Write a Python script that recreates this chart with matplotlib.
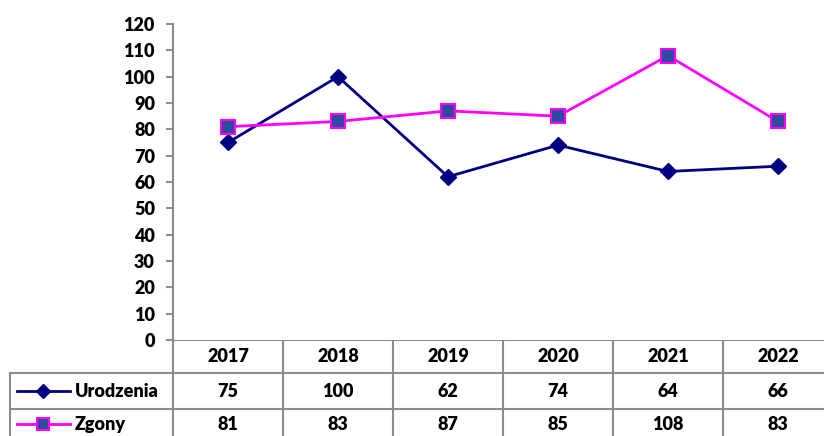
import matplotlib.pyplot as plt
import matplotlib as mpl

mpl.rcParams['font.family'] = ['Lato', 'DejaVu Sans']
mpl.rcParams['font.weight'] = 'heavy'

years = ['2017', '2018', '2019', '2020', '2021', '2022']
urodzenia = [75, 100, 62, 74, 64, 66]
zgony = [81, 83, 87, 85, 108, 83]
series_names = ['Urodzenia', 'Zgony']

W, H = 824, 436
fig = plt.figure(figsize=(W / 100, H / 100), dpi=100)

# chart area in pixels (it runs a bit past the right edge, like the original)
left, top, bottom = 173, 24, 340
col_w = 110
width = col_w * len(years)
grid = '#8c8c8c'
wt = 'heavy'

ax = fig.add_axes([left / W, (H - bottom) / H, width / W, (bottom - top) / H])
x = list(range(len(years)))
ax.plot(x, urodzenia, color='#000080', lw=2, marker='D', ms=8,
        mfc='#000080', mec='#000080', zorder=3)
ax.plot(x, zgony, color='#ff00ff', lw=2, marker='s', ms=10,
        mfc='#2e4a9c', mec='#ff00ff', mew=1.5, zorder=3)
ax.set_xlim(-0.5, len(years) - 0.5)
ax.set_ylim(0, 120)
ax.set_yticks(range(0, 121, 10))
ax.set_xticks([])
for s in ['top', 'right', 'bottom']:
    ax.spines[s].set_visible(False)
ax.spines['left'].set_color(grid)
ax.spines['left'].set_linewidth(1.5)
ax.tick_params(axis='y', length=5, width=1.5, color=grid, pad=8, labelsize=13)
for lab in ax.get_yticklabels():
    lab.set_fontweight(wt)

# data table under the chart, drawn in pixel coordinates
tb = fig.add_axes([0, 0, 1, 1], zorder=-1)
tb.set_xlim(0, W)
tb.set_ylim(H, 0)
tb.axis('off')

rows = [bottom, 373, 409, 445]
right = left + width
tb.plot([left, right], [rows[0], rows[0]], color=grid, lw=1.5)
for r in rows[1:3]:
    tb.plot([10, right], [r, r], color=grid, lw=1.5)
tb.plot([10, 10], [rows[1], rows[3]], color=grid, lw=1.5)
for i in range(len(years) + 1):
    xc = left + col_w * i
    tb.plot([xc, xc], [rows[0], rows[3]], color=grid, lw=1.5)

fs = 13
for i, yr in enumerate(years):
    cx = left + col_w * i + col_w / 2
    tb.text(cx, (rows[0] + rows[1]) / 2, yr, ha='center', va='center', fontsize=fs, fontweight=wt)
    tb.text(cx, (rows[1] + rows[2]) / 2, str(urodzenia[i]), ha='center', va='center', fontsize=fs, fontweight=wt)
    tb.text(cx, (rows[2] + rows[3]) / 2 - 3, str(zgony[i]), ha='center', va='center', fontsize=fs, fontweight=wt)

# legend keys
ky1 = (rows[1] + rows[2]) / 2
ky2 = (rows[2] + rows[3]) / 2 - 3
tb.plot([17, 70], [ky1, ky1], color='#000080', lw=2)
tb.plot([43], [ky1], marker='D', ms=7, color='#000080')
tb.plot([17, 70], [ky2, ky2], color='#ff00ff', lw=2)
tb.plot([43], [ky2], marker='s', ms=8, mfc='#2e4a9c', mec='#ff00ff', mew=1.5)
tb.text(75, ky1, series_names[0], ha='left', va='center', fontsize=fs, fontweight=wt)
tb.text(75, ky2, series_names[1], ha='left', va='center', fontsize=fs, fontweight=wt)

fig.savefig('out.png', dpi=100)
